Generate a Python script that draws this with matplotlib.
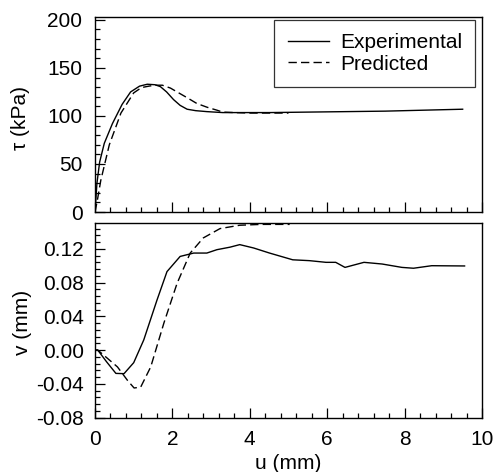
import matplotlib
matplotlib.use("Agg")
import matplotlib.pyplot as plt
from matplotlib.ticker import MultipleLocator, FormatStrFormatter

plt.rcParams['font.family'] = ['Liberation Sans', 'DejaVu Sans']
plt.rcParams['axes.unicode_minus'] = False

# Shear stress vs horizontal displacement
u_tau_exp = [0.0, 0.05, 0.12, 0.24, 0.45, 0.7, 0.92, 1.15, 1.35, 1.55, 1.69, 1.85, 2.03, 2.2, 2.38, 2.6, 2.89, 3.3, 4.5, 5.5, 6.5, 7.5, 8.5, 9.5]
tau_exp = [0.0, 30, 52, 71.5, 92, 112, 125, 131, 133, 132.5, 130.5, 125, 117, 111, 107, 105.5, 104.5, 103.5, 103.5, 104, 104.5, 105, 106, 107]
u_tau_pred = [0.0, 0.06, 0.15, 0.37, 0.67, 1.0, 1.2, 1.39, 1.55, 1.74, 1.95, 2.12, 2.38, 2.63, 2.9, 3.15, 3.3, 3.6, 4.0, 4.5, 5.0]
tau_pred = [0.0, 12, 33, 70, 103, 124, 129.5, 131, 132, 132, 129, 125, 119, 113, 109, 106, 104, 103.5, 103, 103, 103]

# Vertical displacement vs horizontal displacement
u_v_exp = [0.0, 0.07, 0.3, 0.54, 0.75, 1.0, 1.26, 1.6, 1.86, 2.2, 2.55, 2.89, 3.15, 3.49, 3.74, 4.1, 4.51, 5.11, 5.54, 5.97, 6.22, 6.46, 6.95, 7.42, 7.93, 8.23, 8.7, 9.55]
v_exp = [0.0, 0.0, -0.014, -0.0277, -0.028, -0.015, 0.012, 0.059, 0.093, 0.111, 0.115, 0.115, 0.119, 0.122, 0.125, 0.121, 0.115, 0.107, 0.106, 0.104, 0.104, 0.098, 0.104, 0.102, 0.098, 0.097, 0.100, 0.0997]
u_v_pred = [0.0, 0.07, 0.3, 0.58, 0.84, 1.01, 1.18, 1.44, 1.78, 2.12, 2.46, 2.8, 3.23, 3.74, 4.3, 5.03]
v_pred = [0.0, 0.0, -0.009, -0.020, -0.036, -0.045, -0.044, -0.020, 0.032, 0.079, 0.115, 0.133, 0.144, 0.148, 0.149, 0.149]

FS = 15
W, H = 497, 472
fig = plt.figure(figsize=(W / 100, H / 100), dpi=100)
ax1 = fig.add_axes([95 / W, 1 - 212 / H, 387 / W, 195 / H])
ax2 = fig.add_axes([95 / W, 1 - 417.5 / H, 387 / W, 194.8 / H])

dash = (6, 3)
ax1.plot(u_tau_exp, tau_exp, color='black', lw=1.0, label='Experimental')
ax1.plot(u_tau_pred, tau_pred, color='black', lw=1.0, ls='--', dashes=dash, label='Predicted')
ax2.plot(u_v_exp, v_exp, color='black', lw=1.0)
ax2.plot(u_v_pred, v_pred, color='black', lw=1.0, ls='--', dashes=dash)

ax1.set_xlim(0, 10)
ax1.set_ylim(0, 203)
ax2.set_xlim(0, 10)
ax2.set_ylim(-0.08, 0.151)

for ax in (ax1, ax2):
    ax.xaxis.set_major_locator(MultipleLocator(2))
    ax.xaxis.set_minor_locator(MultipleLocator(0.4))
    ax.tick_params(which='both', direction='in', top=False, right=False, labelsize=FS, width=0.9, pad=9)
    ax.tick_params(which='major', length=7)
    ax.tick_params(which='minor', length=3.8)
    for s in ax.spines.values():
        s.set_linewidth(1.0)

ax1.yaxis.set_major_locator(MultipleLocator(50))
ax1.yaxis.set_minor_locator(MultipleLocator(10))
ax1.tick_params(axis='x', labelbottom=False)

ax2.yaxis.set_major_locator(MultipleLocator(0.04))
ax2.yaxis.set_minor_locator(MultipleLocator(0.008))
ax2.yaxis.set_major_formatter(FormatStrFormatter('%.2f'))
ax2.tick_params(axis='y', pad=8)

ax1.set_ylabel('τ (kPa)', fontsize=FS)
ax2.set_ylabel('v (mm)', fontsize=FS)
ax2.set_xlabel('u (mm)', fontsize=FS)
ax1.yaxis.set_label_coords(-0.168, 0.48)
ax2.yaxis.set_label_coords(-0.163, 0.49)
ax2.xaxis.set_label_coords(0.5, -0.185)

leg = ax1.legend(loc='upper right', fontsize=FS, frameon=True, fancybox=False,
                 edgecolor='black', handlelength=2.0, borderpad=0.65,
                 labelspacing=0.1, handletextpad=0.5, borderaxespad=0,
                 bbox_to_anchor=(0.983, 0.985))
leg.get_frame().set_linewidth(0.9)

fig.savefig('out.png', dpi=100)
